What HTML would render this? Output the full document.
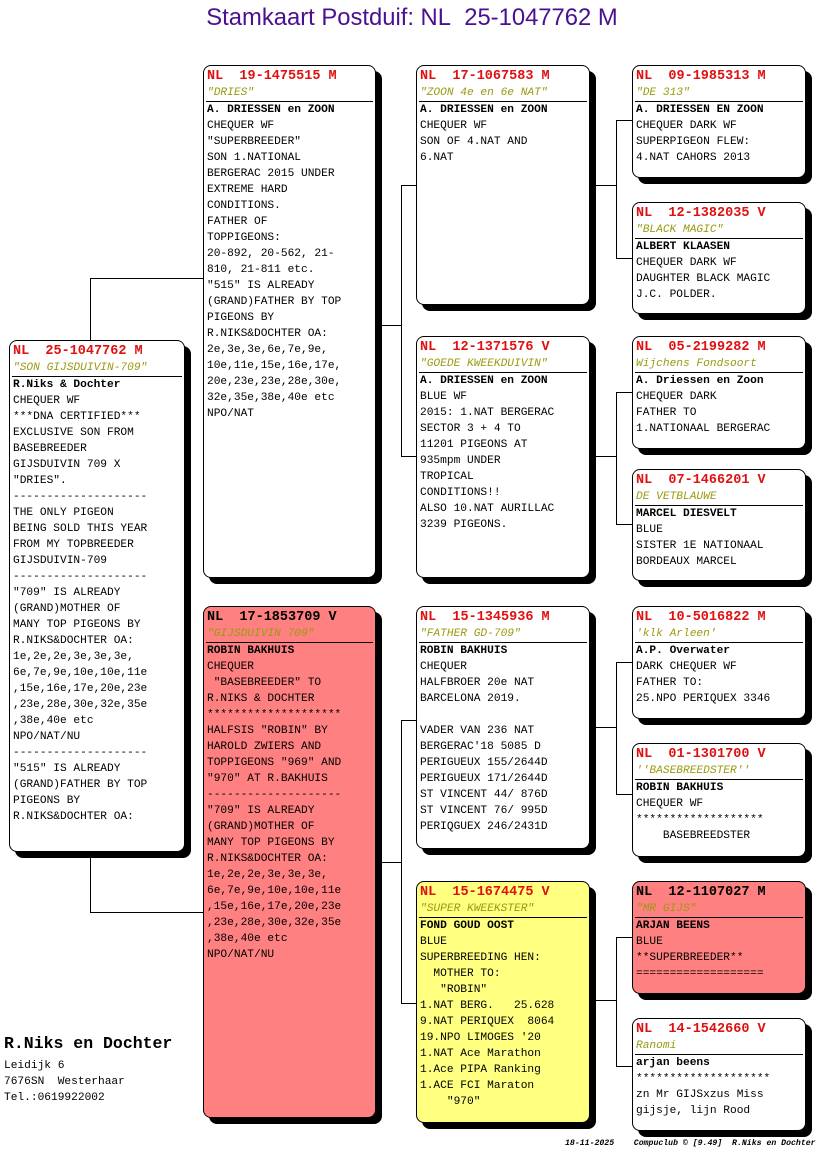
<!DOCTYPE html>
<html><head><meta charset="utf-8"><style>
body{margin:0;width:816px;height:1172px;background:#fff;position:relative;overflow:hidden;font-family:"Liberation Mono",monospace;}
.t{position:absolute;left:4px;width:816px;top:4px;text-align:center;font-family:"Liberation Sans",sans-serif;font-size:23.8px;color:#4a1090;}
.b{position:absolute;border:1px solid #000;border-radius:8px;background:#fff;box-shadow:6px 6px 0 #000;box-sizing:border-box;padding-top:3px;}
.r{color:#e01010;font-weight:bold;font-size:13.5px;line-height:16px;padding-left:3px;white-space:pre;}
.n{color:#9a9a10;font-style:italic;font-size:11.2px;line-height:16px;border-bottom:1px solid #000;margin:0 2px;padding-left:1px;white-space:pre;}
.x{font-size:11.2px;line-height:16px;padding-left:3px;white-space:pre;color:#000;}
.x b{font-weight:bold;}
.red{background:#ff8080}.yel{background:#ffff80}
.l{position:absolute;background:#000;}
.h{height:1px}.v{width:1px}
</style></head><body>
<div class="t">Stamkaart Postduif: NL&nbsp;&nbsp;25-1047762 M</div>

<div class="l v" style="left:90px;top:278px;height:62px"></div>
<div class="l h" style="left:90px;top:278px;width:113px"></div>
<div class="l v" style="left:90px;top:851px;height:61px"></div>
<div class="l h" style="left:90px;top:912px;width:113px"></div>

<div class="l h" style="left:375px;top:325px;width:26px"></div>
<div class="l v" style="left:401px;top:185px;height:272px"></div>
<div class="l h" style="left:401px;top:185px;width:15px"></div>
<div class="l h" style="left:401px;top:456px;width:15px"></div>

<div class="l h" style="left:375px;top:862px;width:26px"></div>
<div class="l v" style="left:401px;top:720px;height:284px"></div>
<div class="l h" style="left:401px;top:720px;width:15px"></div>
<div class="l h" style="left:401px;top:1003px;width:15px"></div>

<div class="l h" style="left:589px;top:185px;width:27px"></div>
<div class="l v" style="left:616px;top:120px;height:139px"></div>
<div class="l h" style="left:616px;top:120px;width:16px"></div>
<div class="l h" style="left:616px;top:258px;width:16px"></div>

<div class="l h" style="left:589px;top:456px;width:27px"></div>
<div class="l v" style="left:616px;top:392px;height:133px"></div>
<div class="l h" style="left:616px;top:392px;width:16px"></div>
<div class="l h" style="left:616px;top:524px;width:16px"></div>

<div class="l h" style="left:589px;top:727px;width:27px"></div>
<div class="l v" style="left:616px;top:662px;height:133px"></div>
<div class="l h" style="left:616px;top:662px;width:16px"></div>
<div class="l h" style="left:616px;top:794px;width:16px"></div>

<div class="l h" style="left:589px;top:1000px;width:27px"></div>
<div class="l v" style="left:616px;top:937px;height:130px"></div>
<div class="l h" style="left:616px;top:937px;width:16px"></div>
<div class="l h" style="left:616px;top:1066px;width:16px"></div>

<div class="b" style="left:9px;top:340px;width:176px;height:512px">
<div class="r">NL  25-1047762 M</div><div class="n">"SON GIJSDUIVIN-709"</div>
<div class="x"><b>R.Niks &amp; Dochter</b>
CHEQUER WF
***DNA CERTIFIED***
EXCLUSIVE SON FROM
BASEBREEDER
GIJSDUIVIN 709 X
"DRIES".
--------------------
THE ONLY PIGEON
BEING SOLD THIS YEAR
FROM MY TOPBREEDER
GIJSDUIVIN-709
--------------------
"709" IS ALREADY
(GRAND)MOTHER OF
MANY TOP PIGEONS BY
R.NIKS&amp;DOCHTER OA:
1e,2e,2e,3e,3e,3e,
6e,7e,9e,10e,10e,11e
,15e,16e,17e,20e,23e
,23e,28e,30e,32e,35e
,38e,40e etc
NPO/NAT/NU
--------------------
"515" IS ALREADY
(GRAND)FATHER BY TOP
PIGEONS BY
R.NIKS&amp;DOCHTER OA:</div></div>

<div class="b" style="left:203px;top:65px;width:173px;height:513px">
<div class="r">NL  19-1475515 M</div><div class="n">"DRIES"</div>
<div class="x"><b>A. DRIESSEN en ZOON</b>
CHEQUER WF
"SUPERBREEDER"
SON 1.NATIONAL
BERGERAC 2015 UNDER
EXTREME HARD
CONDITIONS.
FATHER OF
TOPPIGEONS:
20-892, 20-562, 21-
810, 21-811 etc.
"515" IS ALREADY
(GRAND)FATHER BY TOP
PIGEONS BY
R.NIKS&amp;DOCHTER OA:
2e,3e,3e,6e,7e,9e,
10e,11e,15e,16e,17e,
20e,23e,23e,28e,30e,
32e,35e,38e,40e etc
NPO/NAT</div></div>

<div class="b red" style="left:203px;top:606px;width:173px;height:512px">
<div class="r" style="color:#000">NL  17-1853709 V</div><div class="n">"GIJSDUIVIN 709"</div>
<div class="x"><b>ROBIN BAKHUIS</b>
CHEQUER
 "BASEBREEDER" TO
R.NIKS &amp; DOCHTER
********************
HALFSIS "ROBIN" BY
HAROLD ZWIERS AND
TOPPIGEONS "969" AND
"970" AT R.BAKHUIS
--------------------
"709" IS ALREADY
(GRAND)MOTHER OF
MANY TOP PIGEONS BY
R.NIKS&amp;DOCHTER OA:
1e,2e,2e,3e,3e,3e,
6e,7e,9e,10e,10e,11e
,15e,16e,17e,20e,23e
,23e,28e,30e,32e,35e
,38e,40e etc
NPO/NAT/NU</div></div>

<div class="b" style="left:416px;top:65px;width:174px;height:240px">
<div class="r">NL  17-1067583 M</div><div class="n">"ZOON 4e en 6e NAT"</div>
<div class="x"><b>A. DRIESSEN en ZOON</b>
CHEQUER WF
SON OF 4.NAT AND
6.NAT</div></div>

<div class="b" style="left:416px;top:336px;width:174px;height:242px">
<div class="r">NL  12-1371576 V</div><div class="n">"GOEDE KWEEKDUIVIN"</div>
<div class="x"><b>A. DRIESSEN en ZOON</b>
BLUE WF
2015: 1.NAT BERGERAC
SECTOR 3 + 4 TO
11201 PIGEONS AT
935mpm UNDER
TROPICAL
CONDITIONS!!
ALSO 10.NAT AURILLAC
3239 PIGEONS.</div></div>

<div class="b" style="left:416px;top:606px;width:174px;height:243px">
<div class="r">NL  15-1345936 M</div><div class="n">"FATHER GD-709"</div>
<div class="x"><b>ROBIN BAKHUIS</b>
CHEQUER
HALFBROER 20e NAT
BARCELONA 2019.

VADER VAN 236 NAT
BERGERAC'18 5085 D
PERIGUEUX 155/2644D
PERIGUEUX 171/2644D
ST VINCENT 44/ 876D
ST VINCENT 76/ 995D
PERIQGUEX 246/2431D</div></div>

<div class="b yel" style="left:416px;top:881px;width:174px;height:242px">
<div class="r">NL  15-1674475 V</div><div class="n">"SUPER KWEEKSTER"</div>
<div class="x"><b>FOND GOUD OOST</b>
BLUE
SUPERBREEDING HEN:
  MOTHER TO:
   "ROBIN"
1.NAT BERG.   25.628
9.NAT PERIQUEX  8064
19.NPO LIMOGES '20
1.NAT Ace Marathon
1.Ace PIPA Ranking
1.ACE FCI Maraton
    "970"</div></div>

<div class="b" style="left:632px;top:65px;width:174px;height:113px">
<div class="r">NL  09-1985313 M</div><div class="n">"DE 313"</div>
<div class="x"><b>A. DRIESSEN EN ZOON</b>
CHEQUER DARK WF
SUPERPIGEON FLEW:
4.NAT CAHORS 2013</div></div>

<div class="b" style="left:632px;top:202px;width:174px;height:112px">
<div class="r">NL  12-1382035 V</div><div class="n">"BLACK MAGIC"</div>
<div class="x"><b>ALBERT KLAASEN</b>
CHEQUER DARK WF
DAUGHTER BLACK MAGIC
J.C. POLDER.</div></div>

<div class="b" style="left:632px;top:336px;width:174px;height:113px">
<div class="r">NL  05-2199282 M</div><div class="n">Wijchens Fondsoort</div>
<div class="x"><b>A. Driessen en Zoon</b>
CHEQUER DARK
FATHER TO
1.NATIONAAL BERGERAC</div></div>

<div class="b" style="left:632px;top:469px;width:174px;height:112px">
<div class="r">NL  07-1466201 V</div><div class="n">DE VETBLAUWE</div>
<div class="x"><b>MARCEL DIESVELT</b>
BLUE
SISTER 1E NATIONAAL
BORDEAUX MARCEL</div></div>

<div class="b" style="left:632px;top:606px;width:174px;height:113px">
<div class="r">NL  10-5016822 M</div><div class="n">'klk Arleen'</div>
<div class="x"><b>A.P. Overwater</b>
DARK CHEQUER WF
FATHER TO:
25.NPO PERIQUEX 3346</div></div>

<div class="b" style="left:632px;top:743px;width:174px;height:114px">
<div class="r">NL  01-1301700 V</div><div class="n">''BASEBREEDSTER''</div>
<div class="x"><b>ROBIN BAKHUIS</b>
CHEQUER WF
*******************
    BASEBREEDSTER</div></div>

<div class="b red" style="left:632px;top:881px;width:174px;height:113px">
<div class="r" style="color:#000">NL  12-1107027 M</div><div class="n">"MR GIJS"</div>
<div class="x"><b>ARJAN BEENS</b>
BLUE
**SUPERBREEDER**
===================</div></div>

<div class="b" style="left:632px;top:1018px;width:174px;height:113px">
<div class="r">NL  14-1542660 V</div><div class="n">Ranomi</div>
<div class="x"><b>arjan beens</b>
********************
zn Mr GIJSxzus Miss
gijsje, lijn Rood</div></div>

<div style="position:absolute;left:4px;top:1034px;font-weight:bold;font-size:16.5px;">R.Niks en Dochter</div>
<div class="x" style="position:absolute;left:1px;top:1058px;">Leidijk 6
7676SN  Westerhaar
Tel.:0619922002</div>
<div style="position:absolute;left:565px;top:1139px;font-size:8.2px;font-style:italic;font-weight:bold;white-space:pre;">18-11-2025    Compuclub © [9.49]  R.Niks en Dochter</div>
</body></html>
